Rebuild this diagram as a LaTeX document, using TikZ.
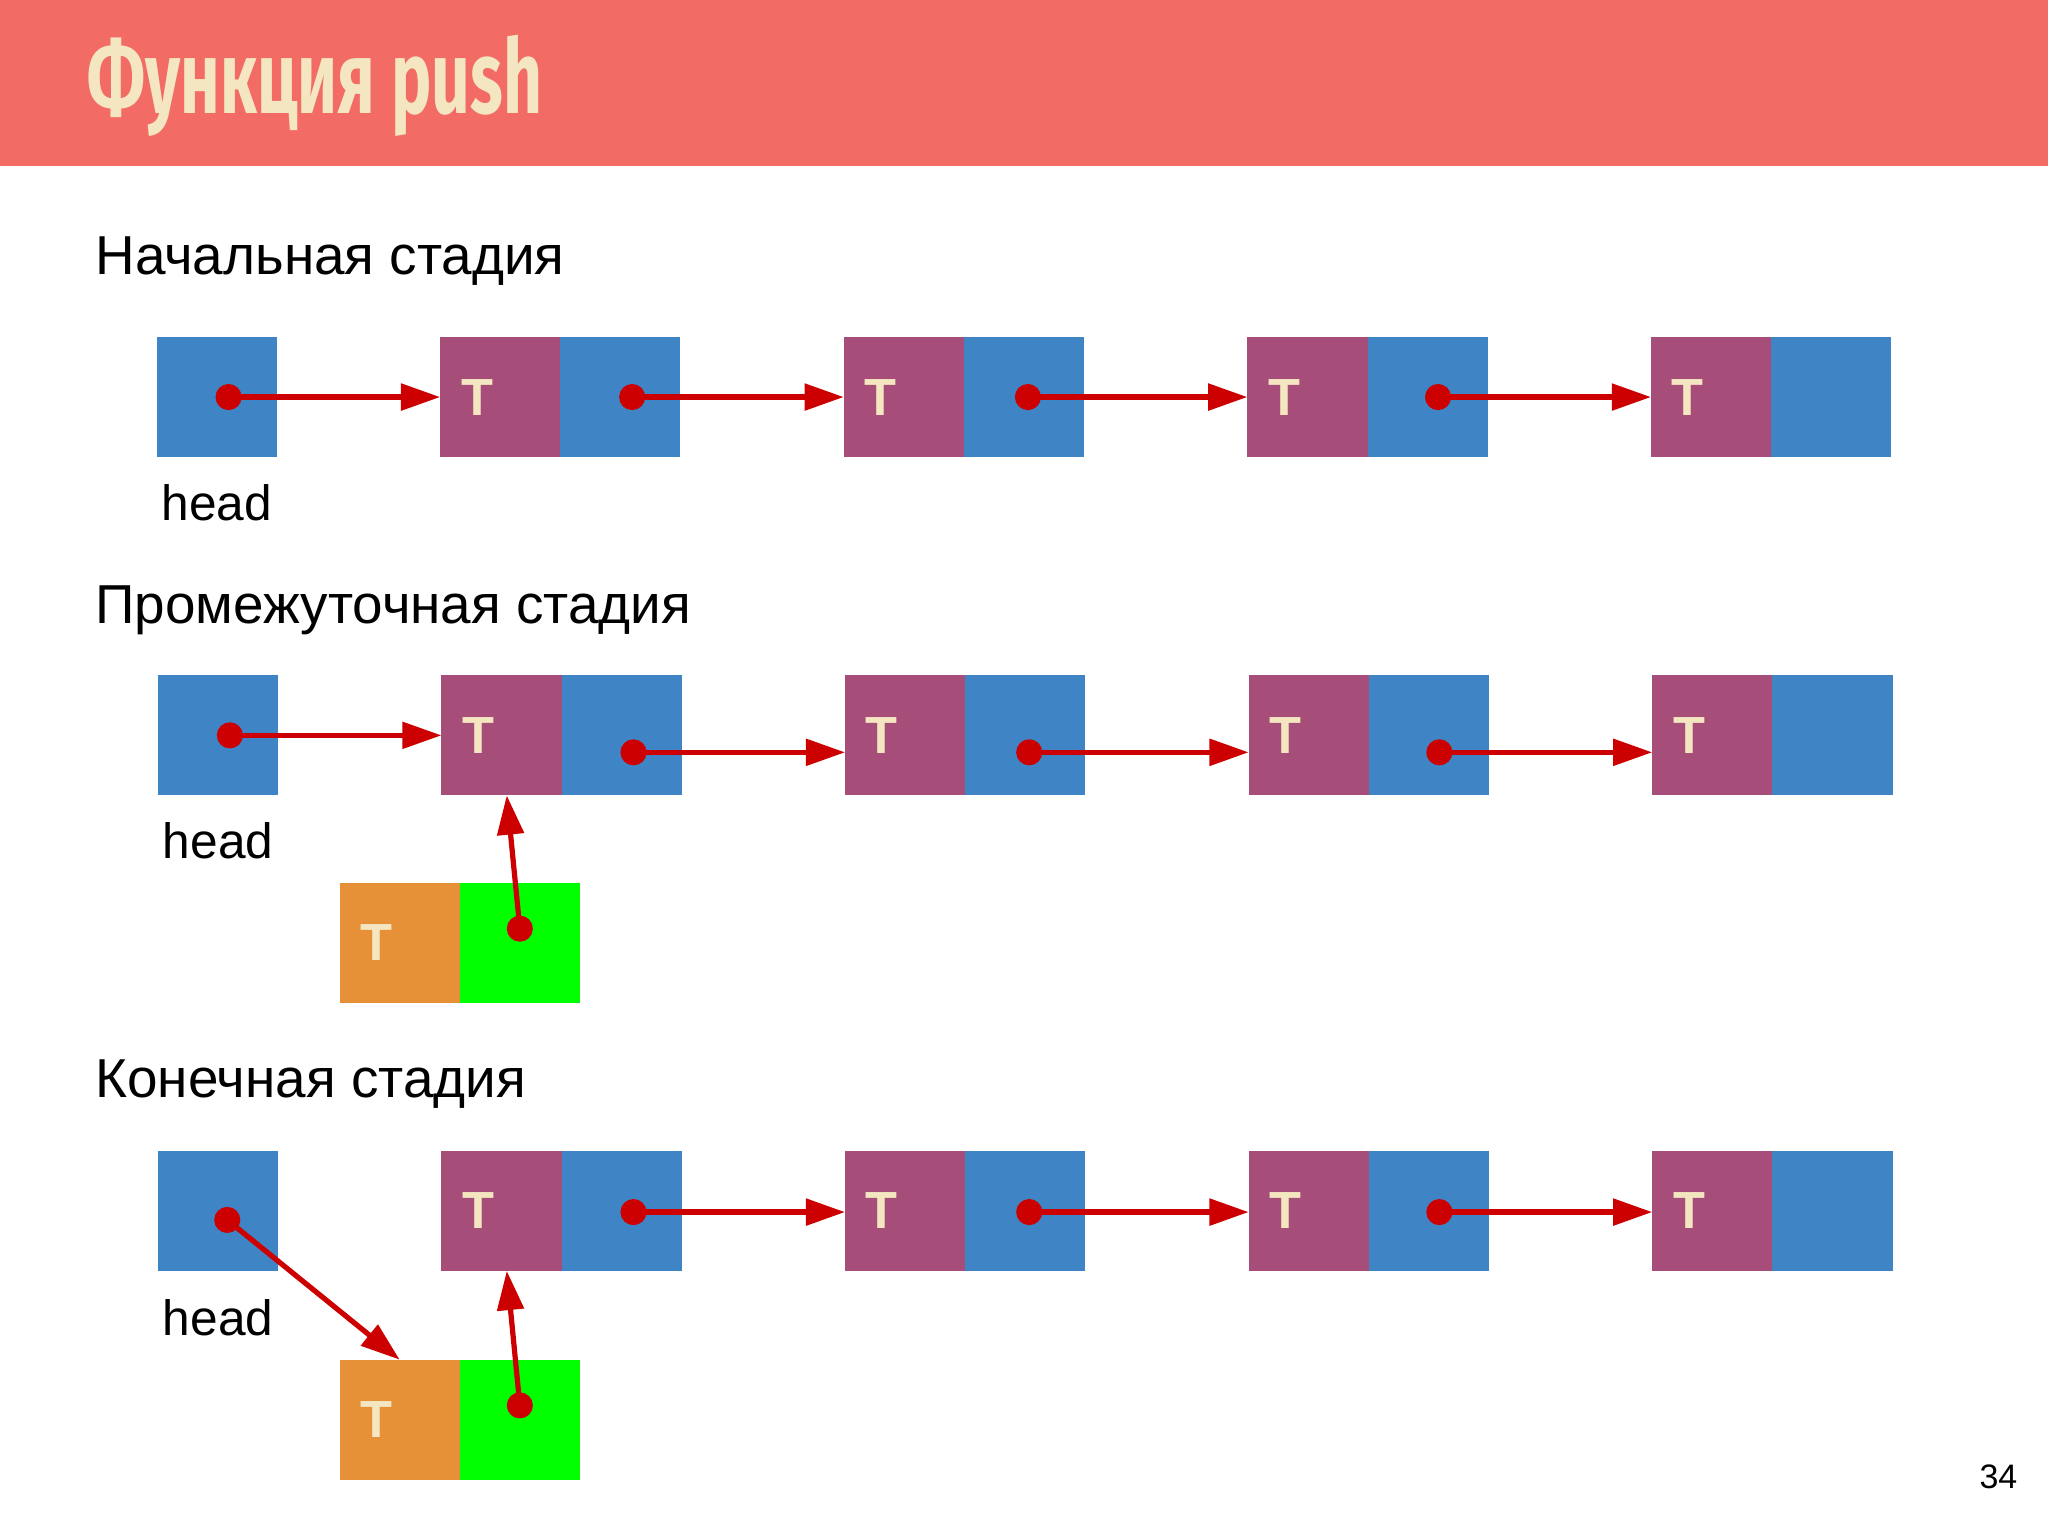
\documentclass[tikz,border=0pt]{standalone}
\usepackage{fontspec}
\setmainfont{Liberation Sans}
\newfontfamily\titlefont{Fira Sans}
\usetikzlibrary{arrows.meta}
\definecolor{hdr}{HTML}{F26B65}
\definecolor{cream}{HTML}{F3E6C0}
\definecolor{bblue}{HTML}{3F85C6}
\definecolor{bpurp}{HTML}{A64D79}
\definecolor{borng}{HTML}{E69138}
\definecolor{bgrn}{HTML}{00FF00}
\definecolor{ared}{HTML}{CC0000}
\begin{document}
\begin{tikzpicture}[x=0.5pt,y=-0.5pt,
 box/.style={draw=none,minimum size=46pt,inner sep=0pt,outer sep=0pt,anchor=north west},
 bl/.style={box,fill=bblue},
 pu/.style={box,fill=bpurp,text=cream,font=\bfseries\fontsize{20}{20}\selectfont,text width=30pt,align=left},
 or/.style={box,fill=borng,text=cream,font=\bfseries\fontsize{20}{20}\selectfont,text width=30pt,align=left},
 gr/.style={box,fill=bgrn},
 dot/.style={circle,fill=ared,inner sep=0pt,minimum size=10pt},
 arr/.style={draw=ared,line width=2pt,-{Triangle[length=15pt,width=10pt]}},
 stage/.style={anchor=west,font=\fontsize{21}{21}\selectfont},
 lbl/.style={font=\fontsize{19}{19}\selectfont}]
\useasboundingbox (0,0) rectangle (1568,1176);
\fill[hdr] (0,0) rectangle (1568,127);
\node[anchor=west,text=cream] (title) at (60,66) {\resizebox{174pt}{30pt}{\titlefont\bfseries Функция push}};
\node[stage] (s1) at (66,200) {Начальная стадия};
\node[stage] (s2) at (66,467) {Промежуточная стадия};
\node[stage] (s3) at (66,830) {Конечная стадия};
\node[font=\fontsize{13}{13}\selectfont] (pg) at (1530,1131) {34};
% row 1
\node[bl] (h1) at (120,258) {};
\node[lbl] (hl1) at (166,385) {head};
\foreach \i/\x in {1/337,2/646,3/955,4/1264}{
 \node[pu] (p1\i) at (\x,258) {T};
 \node[bl] (b1\i) at (\x+92,258) {};
}
\node[dot] (hd1) at (175,304) {};
\draw[arr] (hd1.center) -- (p11.west);
\foreach \i/\j/\x in {1/2/484,2/3/787,3/4/1101}{
 \node[dot] (d1\i) at (\x,304) {};
 \draw[arr] (d1\i.center) -- (p1\j.west);
}
% row 2
\node[bl] (h2) at (121,517) {};
\node[lbl] (hl2) at (167,644) {head};
\foreach \i/\x in {1/338,2/647,3/956,4/1265}{
 \node[pu] (p2\i) at (\x,517) {T};
 \node[bl] (b2\i) at (\x+92,517) {};
}
\node[dot] (hd2) at (176,563) {};
\draw[arr] (hd2.center) -- (p21.west);
\foreach \i/\j/\x in {1/2/485,2/3/788,3/4/1102}{
 \node[dot] (d2\i) at (\x,576) {};
 \draw[arr] (d2\i.center) -- (p2\j.west |- d2\i);
}
\node[or] (o2) at (260,676) {T};
\node[gr] (g2) at (352,676) {};
\node[dot] (gd2) at (398,711) {};
\draw[arr] (gd2.center) -- ([xshift=2pt]p21.south);
% row 3
\node[bl] (h3) at (121,881) {};
\node[lbl] (hl3) at (167,1009) {head};
\foreach \i/\x in {1/338,2/647,3/956,4/1265}{
 \node[pu] (p3\i) at (\x,881) {T};
 \node[bl] (b3\i) at (\x+92,881) {};
}
\foreach \i/\j/\x in {1/2/485,2/3/788,3/4/1102}{
 \node[dot] (d3\i) at (\x,928) {};
 \draw[arr] (d3\i.center) -- (p3\j.west |- d3\i);
}
\node[or] (o3) at (260,1041) {T};
\node[gr] (g3) at (352,1041) {};
\node[dot] (hd3) at (174,934) {};
\draw[arr] (hd3.center) -- (o3.north);
\node[dot] (gd3) at (398,1076) {};
\draw[arr] (gd3.center) -- ([xshift=2pt]p31.south);
\end{tikzpicture}
\end{document}
